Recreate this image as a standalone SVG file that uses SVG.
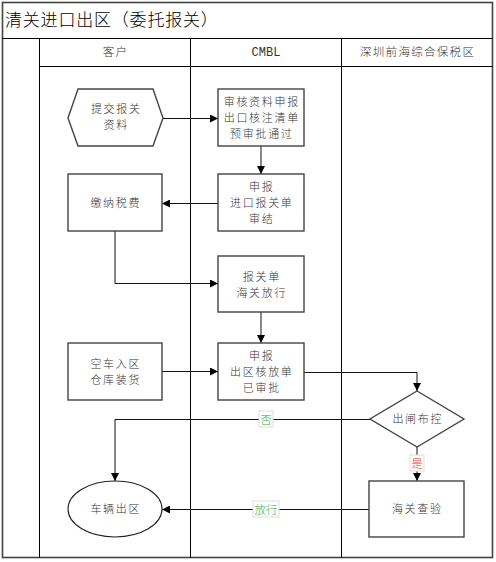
<svg xmlns="http://www.w3.org/2000/svg" width="496" height="562" viewBox="0 0 496 562">
<defs>
<style>
.lane{fill:none;stroke:#000;stroke-width:1}
.frame{fill:none;stroke:#444;stroke-width:1.6}
.box{fill:#fff;stroke:#444;stroke-width:1.4}
.t{font-family:"Noto Sans CJK SC","Noto Sans",sans-serif;font-size:11px;letter-spacing:1.7px;font-weight:300;fill:#333;text-anchor:middle}
.hd{font-family:"Noto Sans CJK SC","Noto Sans",sans-serif;font-size:11.5px;letter-spacing:1.3px;font-weight:300;fill:#333;text-anchor:middle}
.c{fill:none;stroke:#111;stroke-width:1;marker-end:url(#ah)}
.lb{fill:#fff;stroke:#ddd;stroke-width:1}
.lt{font-family:"Noto Sans CJK SC",sans-serif;font-size:11.5px;font-weight:300;text-anchor:middle}
</style>
<marker id="ah" viewBox="0 0 10 10" refX="10" refY="5" markerWidth="9" markerHeight="8" markerUnits="userSpaceOnUse" orient="auto">
<path d="M0,0 L10,5 L0,10 Z" fill="#000"/>
</marker>
</defs>
<rect width="496" height="562" fill="#fff"/>
<g id="pool">
<rect class="frame" x="2.5" y="2.5" width="490" height="555"/>
<line class="lane" x1="2.5" y1="38.5" x2="492.5" y2="38.5"/>
<line class="lane" x1="39.5" y1="66.5" x2="492.5" y2="66.5"/>
<line class="lane" x1="39.5" y1="38.5" x2="39.5" y2="557.5"/>
<line class="lane" x1="190.5" y1="38.5" x2="190.5" y2="557.5"/>
<line class="lane" x1="341.5" y1="38.5" x2="341.5" y2="557.5"/>
<text x="5" y="26" style="font-family:'Noto Sans CJK SC',sans-serif;font-size:17px;letter-spacing:0.8px;font-weight:300;fill:#000">清关进口出区（委托报关）</text>
<text class="hd" x="115.6" y="56">客户</text>
<text x="266" y="56" style="font-family:'Liberation Mono',monospace;font-size:12px;fill:#333;text-anchor:middle">CMBL</text>
<text class="hd" x="417.6" y="56">深圳前海综合保税区</text>
</g>
<g id="connectors">
<path class="c" d="M163,118.5 H218"/>
<path class="c" d="M261,146 V174"/>
<path class="c" d="M218,203.5 H162"/>
<path class="c" d="M115,231 V283.5 H218"/>
<path class="c" d="M261,312 V343"/>
<path class="c" d="M162,371.5 H218"/>
<path class="c" d="M304,372.5 H417 V391"/>
<path class="c" d="M370,419.5 H115 V481"/>
<path class="c" d="M417,447 V481"/>
<path class="c" d="M369,509.5 H162"/>
<g id="lbl-no"><rect class="lb" x="259" y="411" width="14" height="16"/><text class="lt" x="266" y="423.5" fill="#2bb34b">否</text></g>
<g id="lbl-yes"><rect class="lb" x="410" y="455" width="14" height="16"/><text class="lt" x="417" y="467.5" fill="#ff3333">是</text></g>
<g id="lbl-release"><rect class="lb" x="253" y="501" width="26" height="16"/><text class="lt" x="266" y="513.5" fill="#2bb34b">放行</text></g>
</g>
<g id="n-submit">
<polygon class="box" points="68,118 78,89 153,89 163,118 153,146 78,146"/>
<text class="t" x="116.3" y="113">提交报关</text>
<text class="t" x="116.3" y="129">资料</text>
</g>
<g id="n-review">
<rect class="box" x="218" y="89" width="86" height="57"/>
<text class="t" x="261.8" y="106">审核资料申报</text>
<text class="t" x="261.8" y="122">出口核注清单</text>
<text class="t" x="261.8" y="138">预审批通过</text>
</g>
<g id="n-declare">
<rect class="box" x="218" y="174" width="86" height="57"/>
<text class="t" x="261.8" y="191">申报</text>
<text class="t" x="261.8" y="207">进口报关单</text>
<text class="t" x="261.8" y="223">审结</text>
</g>
<g id="n-tax">
<rect class="box" x="68" y="174" width="94" height="57"/>
<text class="t" x="115.8" y="207">缴纳税费</text>
</g>
<g id="n-release">
<rect class="box" x="218" y="256" width="86" height="56"/>
<text class="t" x="261.8" y="281">报关单</text>
<text class="t" x="261.8" y="297">海关放行</text>
</g>
<g id="n-load">
<rect class="box" x="68" y="343" width="94" height="57"/>
<text class="t" x="115.8" y="368">空车入区</text>
<text class="t" x="115.8" y="384">仓库装货</text>
</g>
<g id="n-exit-form">
<rect class="box" x="218" y="343" width="86" height="57"/>
<text class="t" x="261.8" y="360">申报</text>
<text class="t" x="261.8" y="376">出区核放单</text>
<text class="t" x="261.8" y="392">已审批</text>
</g>
<g id="n-gate">
<polygon class="box" points="417,391 464,419 417,447 370,419"/>
<text class="t" x="417.8" y="423">出闸布控</text>
</g>
<g id="n-inspect">
<rect class="box" x="369" y="481" width="95" height="56"/>
<text class="t" x="417.3" y="513">海关查验</text>
</g>
<g id="n-vehicle-exit">
<ellipse class="box" cx="115" cy="509" rx="47" ry="28" style="stroke:#222;stroke-width:1.1"/>
<text class="t" x="115.8" y="513">车辆出区</text>
</g>
</svg>
